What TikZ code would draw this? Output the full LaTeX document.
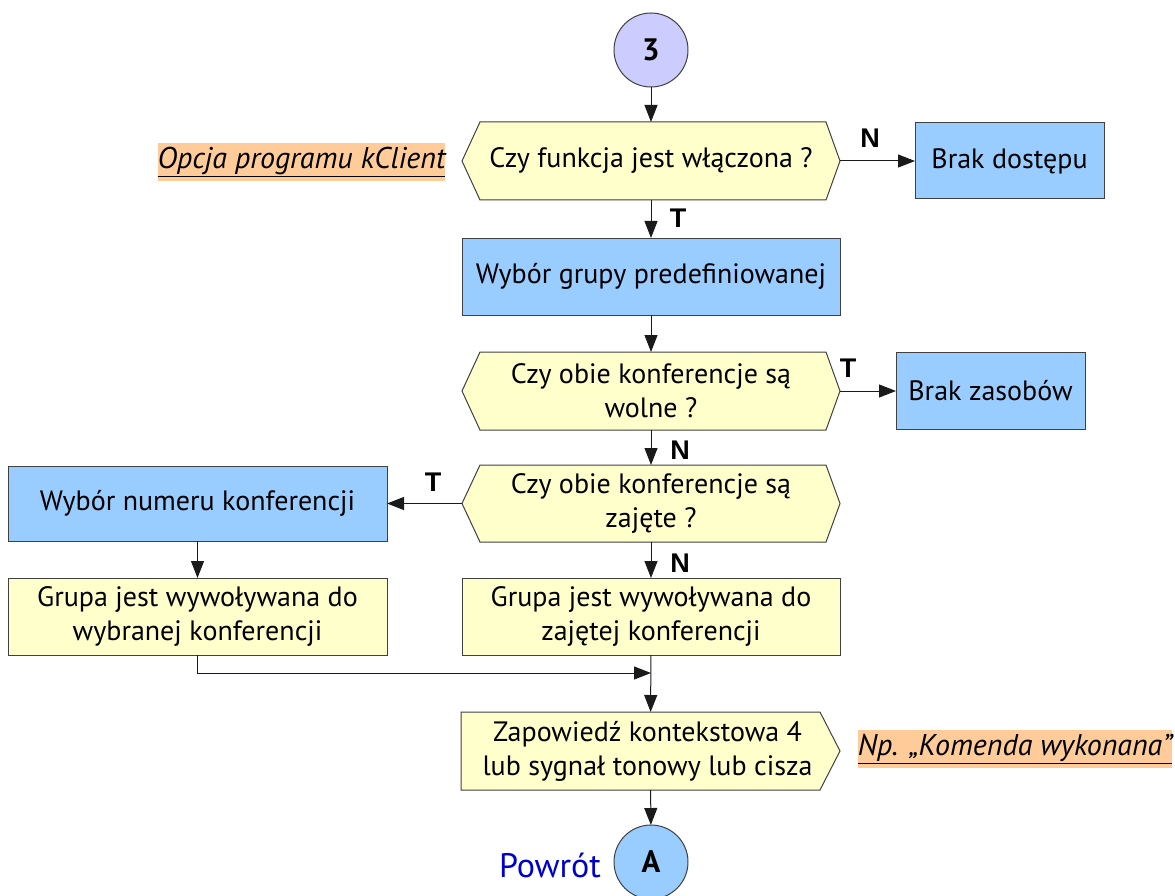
\documentclass[tikz,border=0pt]{standalone}
\usepackage{fontspec}
\setmainfont{PT Sans}
\newfontfamily\lblfont{Liberation Sans}
\usetikzlibrary{arrows.meta}
\pgfdeclarelayer{background}
\pgfsetlayers{background,main}
\definecolor{yel}{HTML}{FFFFCC}
\definecolor{blu}{HTML}{99CCFF}
\definecolor{lav}{HTML}{CCCCFF}
\definecolor{org}{HTML}{FFCC99}
\definecolor{bord}{HTML}{404040}
\definecolor{linec}{HTML}{1A1A1A}
\definecolor{retblue}{HTML}{0000CC}
\newcommand{\mainf}{\fontsize{28}{34}\selectfont}
\tikzset{
  base/.style={inner sep=0pt, outer sep=0pt, align=center, font=\mainf, text=black},
  bluebox/.style={base, draw=bord, line width=1pt, fill=blu},
  yelbox/.style={base, draw=bord, line width=1pt, fill=yel},
  hexnode/.style={base, minimum width=378pt, minimum height=78pt},
  hexdraw/.style={draw=bord, line width=1pt, fill=yel},
  circ/.style={base, circle, draw=bord, line width=1pt, minimum size=74pt, font=\fontsize{31}{31}\selectfont\bfseries},
  conn/.style={draw=linec, line width=1pt, -{Triangle[length=17pt,width=13pt]}},
  tn/.style={inner sep=0pt, font=\lblfont\fontsize{27}{27}\selectfont\bfseries},
  note/.style={inner sep=0pt, fill=org, font=\fontsize{30}{30}\selectfont\itshape, minimum height=38pt}
}
\begin{document}
\begin{tikzpicture}[x=1pt,y=-1pt]
\useasboundingbox (0,0) rectangle (1175,896);
% nodes
\node[circ, fill=lav] (c3) at (651,50) {3};
\node[hexnode] (h1) at (651,161) {Czy funkcja jest włączona ?};
\node[bluebox, minimum width=189pt, minimum height=76pt] (bd) at (1009.5,161) {Brak dostępu};
\node[bluebox, minimum width=378pt, minimum height=77pt] (wg) at (651,276.5) {Wybór grupy predefiniowanej};
\node[hexnode] (h2) at (651,391) {Czy obie konferencje są\\wolne ?};
\node[bluebox, minimum width=189pt, minimum height=77pt] (bz) at (990.5,391) {Brak zasobów};
\node[hexnode, minimum height=77pt] (h3) at (651,503.5) {Czy obie konferencje są\\zajęte ?};
\node[bluebox, minimum width=379pt, minimum height=75pt] (wn) at (197.5,503.5) {Wybór numeru konferencji};
\node[yelbox, minimum width=379pt, minimum height=77pt] (gl) at (197.5,616.5) {Grupa jest wywoływana do\\wybranej konferencji};
\node[yelbox, minimum width=378pt, minimum height=77pt] (gr) at (651,616.5) {Grupa jest wywoływana do\\zajętej konferencji};
\node[base, minimum width=379pt, minimum height=78pt] (zap) at (650.5,751) {\hspace*{-6pt}Zapowiedź kontekstowa 4\\\hspace*{-6pt}lub sygnał tonowy lub cisza};
\node[circ, fill=blu] (cA) at (651,862) {A};
% background shapes
\begin{pgfonlayer}{background}
\foreach \h in {h1,h2,h3}{
  \draw[hexdraw] (\h.west) -- ([xshift=18pt]\h.north west) -- ([xshift=-14pt]\h.north east) -- (\h.east) -- ([xshift=-14pt]\h.south east) -- ([xshift=18pt]\h.south west) -- cycle;
}
\draw[hexdraw] (zap.north west) -- ([xshift=-20pt]zap.north east) -- (zap.east) -- ([xshift=-20pt]zap.south east) -- (zap.south west) -- cycle;
\end{pgfonlayer}
% notes
\node[note, minimum width=287pt] (n1) at (301.5,162) {\underline{Opcja programu kClient}};
\node[note, minimum width=314pt] (n2) at (1015,749) {\underline{Np. „Komenda wykonana”}};
\node[inner sep=0pt, text=retblue, font=\fontsize{34}{34}\selectfont] (pw) at (550,865) {Powrót};
% connectors
\coordinate (m) at (651,673);
\draw[conn] (c3) -- (h1);
\draw[conn] (h1) -- (bd);
\draw[conn] (h1) -- (wg);
\draw[conn] (wg) -- (h2);
\draw[conn] (h2) -- (bz);
\draw[conn] (h2) -- (h3);
\draw[conn] (h3.west) -- (h3.west -| wn.east);
\draw[conn] (wn) -- (gl);
\draw[conn] (h3) -- (gr);
\draw[conn] (gl.south) -- (gl.south |- m) -- (m);
\draw[conn] (gr) -- (zap);
\draw[conn] (zap) -- (cA);
% labels
\node[tn] (l1) at (870,138) {N};
\node[tn] (l2) at (678,218) {T};
\node[tn] (l3) at (848,368) {T};
\node[tn] (l4) at (680,450) {N};
\node[tn] (l5) at (433,482) {T};
\node[tn] (l6) at (680,563) {N};
\end{tikzpicture}
\end{document}
